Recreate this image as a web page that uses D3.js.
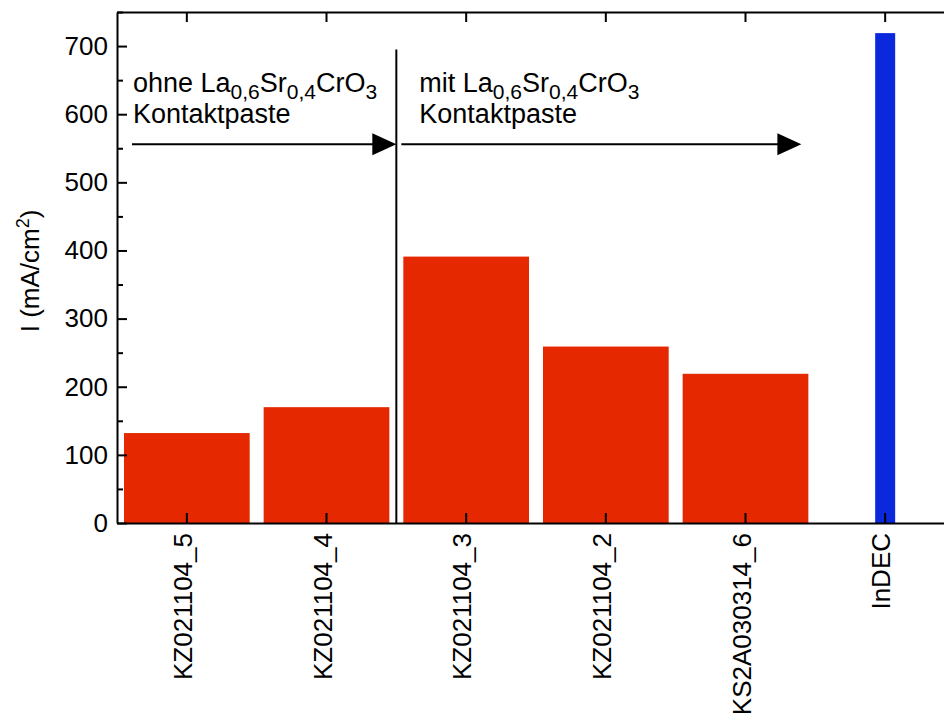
<!DOCTYPE html>
<html>
<head>
<meta charset="utf-8">
<script src="https://cdn.jsdelivr.net/npm/d3@7"></script>
<style>
  body { margin: 0; background: #fff; }
  svg { font-family: "Liberation Sans", Arial, sans-serif; }
</style>
</head>
<body>
<script>
// samples and measured current density
var samples = ["KZ021104_5", "KZ021104_4", "KZ021104_3", "KZ021104_2", "KS2A030314_6", "InDEC"];
var current = [132, 170, 391, 259, 219, 719];
var barColors = ["#e52800", "#e52800", "#e52800", "#e52800", "#e52800", "#0a28dc"];
var yTicks = [0, 100, 200, 300, 400, 500, 600, 700];
var yMinor = [50, 150, 250, 350, 450, 550, 650, 750];

var svgWidth = 944;
var svgHeight = 720;
var plotLeft = 117, plotRight = 955, plotTop = 12, plotBottom = 523;

var svg = d3.select("body")
  .append("svg")
  .attr("width", svgWidth)
  .attr("height", svgHeight);

var x = d3.scaleBand()
  .domain(samples)
  .range([plotLeft, plotRight])
  .paddingInner(0.1)
  .paddingOuter(0.05);

var y = d3.scaleLinear()
  .domain([0, 750])
  .range([plotBottom, plotTop]);

// bars
svg.selectAll("rect.bar")
  .data(samples)
  .enter()
  .append("rect")
  .attr("class", "bar")
  .attr("x", function(d, i) {
    var w = d === "InDEC" ? 20 : x.bandwidth();
    return x(d) + x.bandwidth() / 2 - w / 2;
  })
  .attr("width", d => d === "InDEC" ? 20 : x.bandwidth())
  .attr("y", (d, i) => y(current[i]))
  .attr("height", (d, i) => plotBottom - y(current[i]))
  .attr("fill", (d, i) => barColors[i]);

// axes
function styleAxis(g) {
  g.selectAll("path, line").attr("stroke", "#000").attr("stroke-width", 2);
  g.selectAll("text").attr("fill", "#000");
}

svg.append("g")
  .attr("transform", `translate(${plotLeft},0)`)
  .call(d3.axisLeft(y).tickValues(yTicks).tickSizeInner(-10).tickSizeOuter(0).tickPadding(9))
  .call(styleAxis)
  .call(g => g.selectAll("text").style("font-size", "26px").attr("font-family", null));

svg.append("g")
  .attr("transform", `translate(${plotLeft},0)`)
  .call(d3.axisLeft(y).tickValues(yMinor).tickSizeInner(-6).tickSizeOuter(0).tickFormat(""))
  .call(styleAxis)
  .call(g => g.select(".domain").remove());

svg.append("g")
  .attr("transform", `translate(${plotRight},0)`)
  .call(d3.axisRight(y).tickValues(yTicks).tickSizeInner(-10).tickSizeOuter(0).tickFormat(""))
  .call(styleAxis);

svg.append("g")
  .attr("transform", `translate(0,${plotTop})`)
  .call(d3.axisTop(x).tickSizeInner(-10).tickSizeOuter(0).tickFormat(""))
  .call(styleAxis);

var xAxis = svg.append("g")
  .attr("transform", `translate(0,${plotBottom})`)
  .call(d3.axisBottom(x).tickSizeInner(-10).tickSizeOuter(0))
  .call(styleAxis);

xAxis.selectAll("text")
  .style("font-size", "26px")
  .attr("font-family", null)
  .attr("text-anchor", "end")
  .attr("y", 0)
  .attr("x", -10)
  .attr("dy", "0.2em")
  .attr("transform", "rotate(-90)");

// y axis title
var yTitle = svg.append("text")
  .attr("transform", `translate(39, ${y(370)}) rotate(-90)`)
  .attr("text-anchor", "middle")
  .style("font-size", "26px");
yTitle.append("tspan").text("I (mA/cm");
yTitle.append("tspan").attr("dy", -10).style("font-size", "18px").text("2");
yTitle.append("tspan").attr("dy", 10).text(")");

// divider between groups
var divX = x(samples[2]) - x.step() * x.paddingInner() / 2;
svg.append("line")
  .attr("x1", divX).attr("x2", divX)
  .attr("y1", y(695)).attr("y2", y(0))
  .attr("stroke", "#000").attr("stroke-width", 2);

// annotation arrows
var arrowY = y(556);
var arrows = [
  [x(samples[0]) + 8, divX],
  [divX + 5, x(samples[4]) + x.bandwidth() - 7]
];
arrows.forEach(function(a) {
  svg.append("line")
    .attr("x1", a[0]).attr("x2", a[1] - 20)
    .attr("y1", arrowY).attr("y2", arrowY)
    .attr("stroke", "#000").attr("stroke-width", 2);
  svg.append("path")
    .attr("d", `M${a[1] - 24},${arrowY - 11} L${a[1]},${arrowY} L${a[1] - 24},${arrowY + 11} Z`)
    .attr("fill", "#000");
});

// annotation texts
var notes = ["ohne ", "mit "];
var noteX = [x(samples[0]) + 9, divX + 23];
notes.forEach(function(n, i) {
  var t = svg.append("text")
    .attr("x", noteX[i])
    .attr("y", y(632))
    .style("font-size", "27px");
  t.append("tspan").text(n + "La");
  t.append("tspan").attr("dy", 7).style("font-size", "21px").text("0,6");
  t.append("tspan").attr("dy", -7).text("Sr");
  t.append("tspan").attr("dy", 7).style("font-size", "21px").text("0,4");
  t.append("tspan").attr("dy", -7).text("CrO");
  t.append("tspan").attr("dy", 7).style("font-size", "21px").text("3");
  svg.append("text")
    .attr("x", noteX[i])
    .attr("y", y(587))
    .style("font-size", "27px")
    .text("Kontaktpaste");
});
</script>
</body>
</html>
